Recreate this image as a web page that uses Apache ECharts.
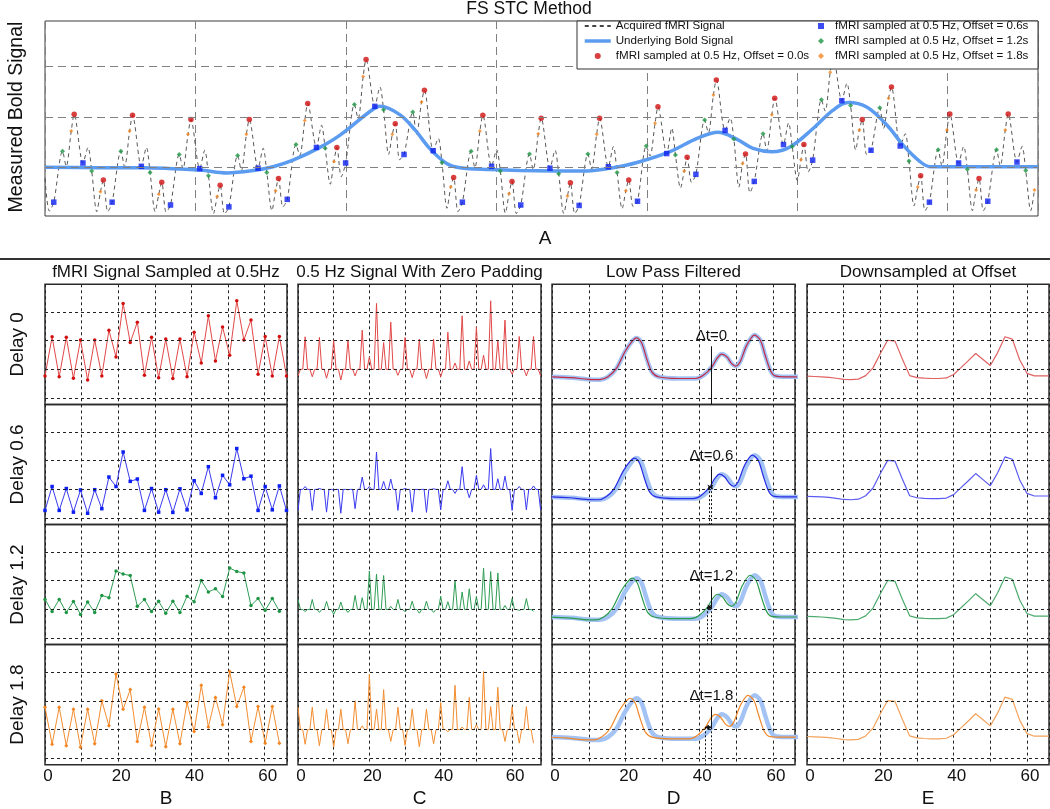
<!DOCTYPE html>
<html>
<head>
<meta charset="utf-8">
<title>FS STC Method</title>
<script src="https://cdn.jsdelivr.net/npm/echarts@6.0.0/dist/echarts.min.js"></script>
<style>
  html, body { margin: 0; padding: 0; background: #fff; }
  #chart { width: 1050px; height: 809px; }
</style>
</head>
<body>
<div id="chart"></div>
<script>
// timing
const SEC = 0.97;          // axis units per second (top, B, D, E axes)
const TR = 2;              // seconds between acquisitions (0.5 Hz)
const PAD = 3;             // zero padding factor used in column C
const OFFSETS = [0, 0.6, 1.2, 1.8];
const DELAYS = ['0', '0.6', '1.2', '1.8'];

const red = [-0.23, 1.13, -0.26, 1.11, -0.31, 1.02, -0.37, 1.02, -0.23, 1.36, 0.43, 2.29, 0.93, 1.64, -0.21, 1.11, -0.29, 1.05,
  -0.32, 1.05, -0.26, 1.29, 0.22, 1.86, 0.29, 1.47, 0.49, 2.38, 1.02, 1.71, -0.17, 1.14, -0.23, 1.14, -0.23];
const blue = [-0.73, 0.10, -0.73, 0.03, -0.79, -0.02, -0.83, -0.01, -0.67, 0.43, 0.10, 1.30, 0.28, 0.36, -0.73, 0.03, -0.79, -0.01,
  -0.80, 0.02, -0.71, 0.30, -0.14, 0.79, -0.29, 0.49, 0.16, 1.42, 0.37, 0.46, -0.73, 0.10, -0.71, 0.12, -0.73];
const green = [0.35, -0.07, 0.35, -0.10, 0.28, -0.17, 0.26, -0.10, 0.49, 0.41, 1.34, 1.23, 1.18, 0.11, 0.35, -0.07, 0.29, -0.13,
  0.29, -0.10, 0.46, 0.27, 1.01, 0.61, 0.72, 0.45, 1.44, 1.32, 1.27, 0.14, 0.38, -0.03, 0.38, -0.06];
const orange = [0.78, -0.51, 0.78, -0.56, 0.71, -0.61, 0.71, -0.49, 1.00, 0.13, 1.93, 0.71, 1.39, -0.41, 0.78, -0.55, 0.72, -0.60,
  0.71, -0.49, 0.94, -0.07, 1.54, 0.09, 1.12, 0.17, 2.02, 0.80, 1.47, -0.41, 0.80, -0.47, 0.80, -0.47];

// acquired signal: turning points between the samples [axis unit, value]
const acquiredExtra = [
  [0.29, -0.92], [1.41, 0.03],
  [2.86, 0.43], [3.44, -0.93], [4.17, -0.93], [5.29, 0.02],
  [6.74, 0.43], [7.32, -0.93], [8.05, -0.94], [9.17, -0.02],
  [10.62, 0.37], [11.20, -0.97], [11.93, -0.98], [13.05, -0.06],
  [14.50, 0.41], [15.08, -0.91], [15.81, -0.83], [16.93, 0.26],
  [18.38, 0.90], [18.96, -0.35], [19.69, -0.19], [20.81, 1.04],
  [22.26, 1.71], [22.84, 0.28], [23.57, 0.17], [24.69, 0.70],
  [26.14, 0.62], [26.72, -0.86], [27.45, -0.93], [28.57, 0.00],
  [30.02, 0.38], [30.60, -0.96], [31.33, -0.97], [32.45, -0.04],
  [33.90, 0.37], [34.48, -0.97], [35.21, -0.97], [36.33, -0.03],
  [37.78, 0.45], [38.36, -0.87], [39.09, -0.82], [40.21, 0.25],
  [41.66, 0.84], [42.24, -0.43], [42.97, -0.31], [44.09, 0.74],
  [45.54, 1.05], [46.12, -0.41], [46.85, -0.53], [47.97, 0.36],
  [49.42, 0.95], [50.00, -0.27], [50.73, -0.09], [51.85, 1.20],
  [53.30, 1.79], [53.88, 0.38], [54.61, 0.28], [55.73, 0.83],
  [57.18, 0.72], [57.76, -0.81], [58.49, -0.91], [59.61, 0.04],
  [61.06, 0.45], [61.64, -0.91], [62.37, -0.91], [63.49, 0.04],
  [64.94, 0.45], [65.52, -0.91]
];

// underlying bold signal [axis unit, value]
const boldSignal = [
  [0, 0.01], [3.66, 0], [6.31, 0], [10.30, -0.05], [12.08, -0.11], [13.83, -0.06], [15.15, 0.02], [16.48, 0.16],
  [18.21, 0.42], [19.61, 0.69], [21.60, 1.19], [22.27, 1.30], [23.60, 1.12], [24.59, 0.80], [25.59, 0.40], [26.70, 0.09],
  [27.58, 0], [29.58, -0.04], [31.57, -0.06], [36.03, -0.07], [37.75, 0], [39.35, 0.11], [41.54, 0.34], [43.34, 0.62],
  [44.74, 0.75], [46.00, 0.60], [47.06, 0.41], [48.32, 0.34], [49.52, 0.44], [51.05, 0.83], [52.38, 1.22], [53.37, 1.38],
  [54.64, 1.28], [55.97, 0.90], [57.03, 0.48], [58.16, 0.13], [58.83, 0.02], [60.82, 0.02], [66.0, 0.02]
];

// low pass filtered reference (column D, light blue) [axis unit, value]
const filteredRef = [
  [0, -0.26], [5.4, -0.29], [9.8, -0.35], [13.0, -0.36], [15.2, -0.26], [17.5, 0.03], [19.8, 0.61], [21.8, 0.98],
  [23.0, 1.09], [24.3, 0.93], [25.7, 0.38], [27.1, -0.09], [28.9, -0.26], [34.3, -0.32], [38.9, -0.32], [41.1, -0.21],
  [43.4, 0.08], [44.8, 0.38], [46.1, 0.53], [47.5, 0.43], [48.8, 0.20], [49.9, 0.11], [51.1, 0.26], [52.9, 0.84],
  [55.0, 1.19], [56.6, 1.01], [57.9, 0.49], [59.3, -0.03], [60.6, -0.23], [63.4, -0.26], [68.0, -0.26]
];

// downsampled at offset (column E), one value every 2 axis units
const E_STEP = 2;
const downsampled = [-0.24, -0.25, -0.26, -0.28, -0.31, -0.35, -0.36, -0.34, -0.22, 0.05, 0.55, 1.01, 0.98, 0.36, -0.22, -0.29,
  -0.31, -0.32, -0.32, -0.30, -0.18, 0.06, 0.30, 0.55, 0.34, 0.13, 0.58, 1.13, 1.05, 0.33, -0.14, -0.23, -0.23, -0.23];

// delta t annotation in column D
const DT_X = 43.3, DT_CURVE = 0.08, DT_TEXT_Y = 1.18, DT_LINE_TOP = 0.8;

// grid values and labels
const TOP_GRID_Y = [0, 1.07, 2.14];
const PANEL_GRID_Y = [-1, 0, 1, 2];
const COLUMN_TITLES = ['fMRI Signal Sampled at 0.5Hz', '0.5 Hz Signal With Zero Padding', 'Low Pass Filtered', 'Downsampled at Offset'];
const COLUMN_LETTERS = ['B', 'C', 'D', 'E'];
const LEGEND_NAMES = ['Acquired fMRI Signal', 'Underlying Bold Signal'].concat(
  OFFSETS.map(o => 'fMRI sampled at 0.5 Hz, Offset = ' + o.toFixed(1) + 's'));

// layout & style
const FONT = '"Liberation Sans", Arial, sans-serif';
const COL_LEFT = [45, 298, 552, 807];
const COL_WIDTH = [242, 243, 243, 242];
const COL_XMAX = [66.1, 68.1, 66, 66];
const ROW_TOP = [284.3, 404.4, 524.5, 644.6];
const ROW_H = 120.1;
const PANEL_Y_MIN = -1.22, PANEL_Y_MAX = 2.955;
const MARK_COLORS = ['#d10f0f', '#0b1ff0', '#1f9645', '#f38520'];
const LINE_COLORS = ['#e24848', '#3a3af0', '#2f9d55', '#f28d30'];
const E_COLORS = ['#e06262', '#5a5af2', '#4caa6c', '#f4a25c'];
const D_COLORS = ['#c22a45', '#2a2ae6', '#2a9a4c', '#f0872a'];
const BOLD_COLOR = '#5b9bf0';
const TOP_SYMBOLS = [['circle', 5.5], ['rect', 5.5], ['diamond', 5], ['diamond', 4]];

const chart = echarts.init(document.getElementById('chart'), null, { renderer: 'canvas', width: 1050, height: 809 });

const grid = [], xAxis = [], yAxis = [], series = [];
const sampleSets = [red, blue, green, orange];

// ---- top panel (A)
grid.push({ left: 45, top: 21, width: 993, height: 195, show: true, borderColor: '#3a3a3a', borderWidth: 1, outerBoundsMode: 'none' });
xAxis.push({
  type: 'value', gridIndex: 0, min: 0, max: 66, interval: 10,
  axisLine: { show: false }, axisTick: { show: false }, axisLabel: { show: false },
  splitLine: { show: true, lineStyle: { color: '#808080', type: [8, 5], width: 1 } }
});
yAxis.push({ type: 'value', gridIndex: 0, min: -1.023, max: 3.108, show: false });

series.push({
  type: 'line', xAxisIndex: 0, yAxisIndex: 0, data: [], silent: true, z: 1,
  markLine: {
    silent: true, symbol: ['none', 'none'], label: { show: false }, animation: false,
    lineStyle: { color: '#808080', type: [8, 5], width: 1 },
    data: TOP_GRID_Y.map(y => ({ yAxis: y }))
  }
});

const topSamples = sampleSets.map((arr, i) =>
  arr.map((v, k) => [(TR * k + OFFSETS[i]) * SEC, v]).filter(p => p[0] <= 65.8));
const acquired = topSamples.flat().concat(acquiredExtra).sort((a, b) => a[0] - b[0]);

series.push({
  name: LEGEND_NAMES[0], type: 'line', xAxisIndex: 0, yAxisIndex: 0, data: acquired,
  symbol: 'none', smooth: 0.3, lineStyle: { color: '#444', width: 0.9, type: [4, 3.5] }, z: 2
});
series.push({
  name: LEGEND_NAMES[1], type: 'line', xAxisIndex: 0, yAxisIndex: 0, data: boldSignal,
  symbol: 'none', smooth: 0.35, lineStyle: { color: BOLD_COLOR, width: 3.5 }, z: 3
});
topSamples.forEach((pts, i) => {
  series.push({
    name: LEGEND_NAMES[2 + i], type: 'scatter', xAxisIndex: 0, yAxisIndex: 0,
    data: pts.filter(p => p[0] > 0.1),
    symbol: TOP_SYMBOLS[i][0], symbolSize: TOP_SYMBOLS[i][1],
    itemStyle: { color: MARK_COLORS[i] }, z: 4
  });
});

// ---- small panels
function addPanel(col, row) {
  const idx = grid.length;
  grid.push({
    left: COL_LEFT[col], top: ROW_TOP[row], width: COL_WIDTH[col], height: ROW_H,
    show: true, borderColor: '#2b2b2b', borderWidth: 1.5, outerBoundsMode: 'none'
  });
  xAxis.push({
    type: 'value', gridIndex: idx, min: 0, max: COL_XMAX[col], interval: 10,
    axisLine: { show: false }, axisTick: { show: false },
    axisLabel: {
      show: row === 3, fontSize: 17, color: '#111', fontFamily: FONT, margin: 3, padding: [0, 0, 0, 6],
      formatter: v => (v % 20 === 0 && v <= 60) ? String(v) : ''
    },
    splitLine: { show: true, lineStyle: { color: '#222', type: [3, 3], width: 1 } }
  });
  yAxis.push({ type: 'value', gridIndex: idx, min: PANEL_Y_MIN, max: PANEL_Y_MAX, show: false });
  series.push({
    type: 'line', xAxisIndex: idx, yAxisIndex: idx, data: [], silent: true, z: 1,
    markLine: {
      silent: true, symbol: ['none', 'none'], label: { show: false }, animation: false,
      lineStyle: { color: '#222', type: [3, 3], width: 1 },
      data: PANEL_GRID_Y.map(y => ({ yAxis: y }))
    }
  });
  return idx;
}

function zeroPad(arr) {
  const out = [];
  arr.forEach((v, k) => {
    out.push([k * TR, v]);
    if (k < arr.length - 1) {
      for (let j = 1; j < PAD; j++) out.push([k * TR + j * TR / PAD, 0]);
    }
  });
  return out;
}

function dtLines(r) {
  const d = OFFSETS[r] * SEC;
  const solid = { color: '#111', width: 1, type: 'solid' };
  const dash = { color: '#111', width: 1, type: [2, 2] };
  if (d === 0) {
    return [[{ coord: [DT_X, DT_LINE_TOP], lineStyle: solid }, { coord: [DT_X, PANEL_Y_MIN], lineStyle: solid }]];
  }
  return [
    [{ coord: [DT_X, DT_LINE_TOP], lineStyle: solid }, { coord: [DT_X, DT_CURVE], lineStyle: solid }],
    [{ coord: [DT_X, DT_CURVE], lineStyle: dash }, { coord: [DT_X, PANEL_Y_MIN], lineStyle: dash }],
    [{ coord: [DT_X - d, DT_CURVE], lineStyle: dash }, { coord: [DT_X - d, PANEL_Y_MIN], lineStyle: dash }],
    [{ coord: [DT_X - d, DT_CURVE], symbol: 'arrow', symbolSize: 4, lineStyle: solid },
     { coord: [DT_X, DT_CURVE], symbol: 'arrow', symbolSize: 4, lineStyle: solid }]
  ];
}

const B_SYMBOLS = [['circle', 3.5], ['rect', 3.5], ['circle', 3.5], ['diamond', 4]];

for (let r = 0; r < 4; r++) {
  const arr = sampleSets[r];
  // B: samples
  let g = addPanel(0, r);
  series.push({
    name: 'B' + r, type: 'line', xAxisIndex: g, yAxisIndex: g,
    data: arr.map((v, k) => [k * TR * SEC, v]),
    symbol: B_SYMBOLS[r][0], symbolSize: B_SYMBOLS[r][1], showSymbol: true,
    itemStyle: { color: MARK_COLORS[r] }, lineStyle: { color: LINE_COLORS[r], width: 1 }, z: 3
  });
  // C: zero padded
  g = addPanel(1, r);
  series.push({
    name: 'C' + r, type: 'line', xAxisIndex: g, yAxisIndex: g, data: zeroPad(arr),
    symbol: 'none', lineStyle: { color: LINE_COLORS[r], width: 1 }, z: 3
  });
  // D: low pass filtered vs reference
  g = addPanel(2, r);
  series.push({
    name: 'Dref' + r, type: 'line', xAxisIndex: g, yAxisIndex: g, data: filteredRef,
    symbol: 'none', smooth: 0.3, lineStyle: { color: '#a3c3f4', width: 4.5 }, z: 2
  });
  series.push({
    name: 'D' + r, type: 'line', xAxisIndex: g, yAxisIndex: g,
    data: filteredRef.map(([u, v]) => [u - OFFSETS[r] * SEC, v]),
    symbol: 'none', smooth: 0.3, lineStyle: { color: D_COLORS[r], width: 1.2 }, z: 3,
    markLine: {
      silent: true, symbol: ['none', 'none'], label: { show: false }, animation: false,
      data: dtLines(r)
    },
    markPoint: {
      silent: true, symbol: 'circle', symbolSize: 1, itemStyle: { color: 'rgba(0,0,0,0)' },
      label: { show: true, position: 'inside', formatter: '{b}', color: '#111', fontSize: 15, fontFamily: FONT },
      data: [{ name: '\u0394t=' + DELAYS[r], coord: [DT_X, DT_TEXT_Y] }]
    }
  });
  // E: downsampled
  g = addPanel(3, r);
  series.push({
    name: 'E' + r, type: 'line', xAxisIndex: g, yAxisIndex: g,
    data: downsampled.map((v, k) => [k * E_STEP, v]),
    symbol: 'none', lineStyle: { color: E_COLORS[r], width: 1.2 }, z: 3
  });
}

// ---- texts
function label(text, x, y, size, rotation) {
  return {
    type: 'text', x: x, y: y, rotation: rotation || 0, z: 120, silent: true,
    style: {
      text: text, fill: '#111', font: size + 'px ' + FONT,
      textAlign: 'center', textVerticalAlign: 'middle', align: 'center', verticalAlign: 'middle'
    }
  };
}

const graphics = [
  { type: 'line', shape: { x1: 0, y1: 259, x2: 1050, y2: 259 }, style: { stroke: '#333', lineWidth: 2 }, z: 120, silent: true },
  { type: 'rect', shape: { x: 577, y: 21, width: 461, height: 48 }, style: { fill: '#fff', stroke: '#333', lineWidth: 1 }, z: 100, silent: true },
  label('FS STC Method', 529, 9, 17.5),
  label('Measured Bold Signal', 17, 117, 19.5, Math.PI / 2),
  label('A', 545, 239, 19)
];
COLUMN_TITLES.forEach((t, c) => {
  graphics.push(label(t, COL_LEFT[c] + COL_WIDTH[c] / 2, 272, 17));
  graphics.push(label(COLUMN_LETTERS[c], COL_LEFT[c] + COL_WIDTH[c] / 2, 799, 19));
});
DELAYS.forEach((d, r) => {
  graphics.push(label('Delay ' + d, 18, ROW_TOP[r] + ROW_H / 2, 19, Math.PI / 2));
});

const legendBase = {
  orient: 'vertical', top: 19, itemGap: 1, itemHeight: 6, padding: 0,
  selectedMode: false, z: 110, symbolKeepAspect: true,
  textStyle: { fontSize: 11.6, color: '#111', fontFamily: FONT, lineHeight: 14 }
};
const hiddenSymbol = { color: 'rgba(0,0,0,0)', borderWidth: 0 };

chart.setOption({
  animation: false,
  backgroundColor: '#fff',
  textStyle: { fontFamily: FONT },
  grid: grid,
  xAxis: xAxis,
  yAxis: yAxis,
  legend: [
    Object.assign({}, legendBase, {
      left: 583, itemWidth: 26,
      data: [
        { name: LEGEND_NAMES[0], itemStyle: hiddenSymbol },
        { name: LEGEND_NAMES[1], itemStyle: hiddenSymbol, lineStyle: { width: 3.5, color: BOLD_COLOR } },
        { name: LEGEND_NAMES[2], icon: 'circle' }
      ]
    }),
    Object.assign({}, legendBase, {
      left: 818, itemWidth: 6,
      textStyle: Object.assign({}, legendBase.textStyle, { padding: [0, 0, 0, 6] }),
      data: [
        { name: LEGEND_NAMES[3], icon: 'rect' },
        { name: LEGEND_NAMES[4], icon: 'diamond' },
        { name: LEGEND_NAMES[5], icon: 'diamond' }
      ]
    })
  ],
  graphic: { elements: graphics },
  series: series
});

window.addEventListener('resize', () => chart.resize());
</script>
</body>
</html>
